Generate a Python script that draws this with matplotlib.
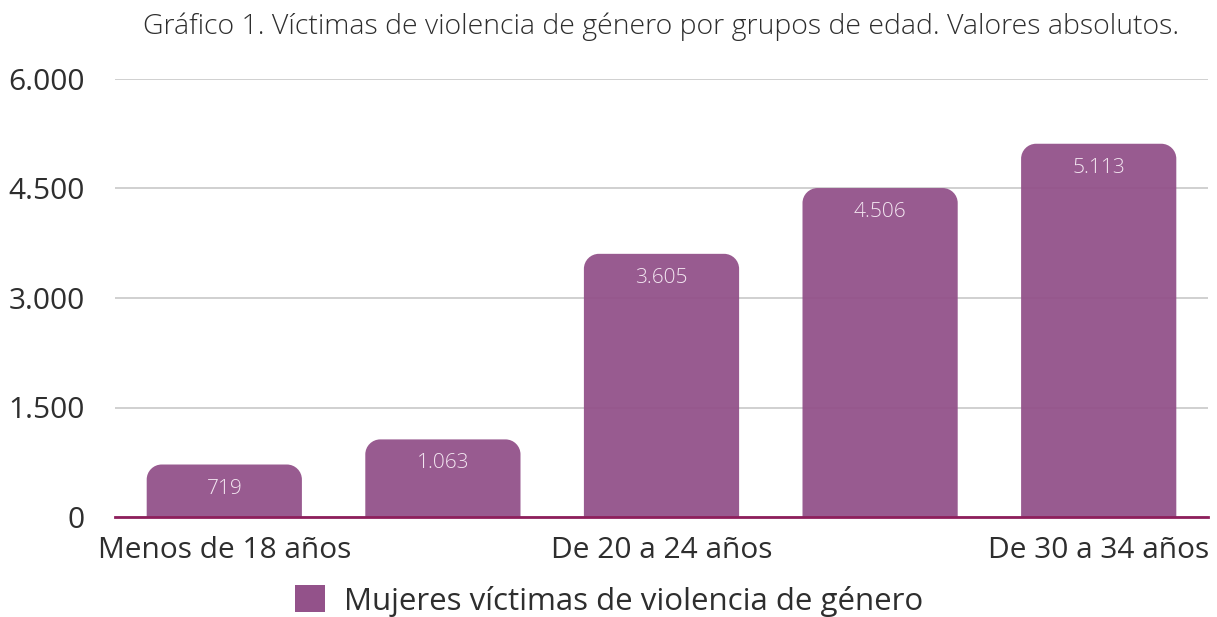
import matplotlib
matplotlib.use("Agg")
import matplotlib.pyplot as plt
from matplotlib.path import Path
from matplotlib.patches import PathPatch, Patch
from matplotlib.ticker import FuncFormatter

categories = ["Menos de 18 años", "De 18 a 19 años", "De 20 a 24 años",
              "De 25 a 29 años", "De 30 a 34 años"]
values = [719, 1063, 3605, 4506, 5113]
shown_labels = ["Menos de 18 años", "", "De 20 a 24 años", "", "De 30 a 34 años"]
yticks = [0, 1500, 3000, 4500, 6000]
series_name = "Mujeres víctimas de violencia de género"
title = "Gráfico 1. Víctimas de violencia de género por grupos de edad. Valores absolutos."

FONT = ["Open Sans", "DejaVu Sans"]
plt.rcParams["font.family"] = FONT
BAR = "#93528a"

fig = plt.figure(figsize=(12.17, 6.17), dpi=100)
ax = fig.add_axes([115/1217, 100/617, 1093/1217, 438/617])
ax.set_xlim(-0.5, 4.5)
ax.set_ylim(0, 6000)

x = list(range(len(categories)))
bars = ax.bar(x, values, width=0.71, color=BAR)

# rounded top corners (radius in pixels converted to data units)
fig.canvas.draw()
px_x = (ax.get_xlim()[1] - ax.get_xlim()[0]) / ax.bbox.width
px_y = (ax.get_ylim()[1] - ax.get_ylim()[0]) / ax.bbox.height
r = 15
rx, ry = r * px_x, r * px_y
k = 0.5523
for b in bars:
    x0, w, h = b.get_x(), b.get_width(), b.get_height()
    x1 = x0 + w
    verts = [
        (x0, 0), (x0, h - ry),
        (x0, h - ry + k * ry), (x0 + rx - k * rx, h), (x0 + rx, h),
        (x1 - rx, h),
        (x1 - rx + k * rx, h), (x1, h - ry + k * ry), (x1, h - ry),
        (x1, 0), (x0, 0),
    ]
    codes = [Path.MOVETO, Path.LINETO,
             Path.CURVE4, Path.CURVE4, Path.CURVE4,
             Path.LINETO,
             Path.CURVE4, Path.CURVE4, Path.CURVE4,
             Path.LINETO, Path.CLOSEPOLY]
    pp = PathPatch(Path(verts, codes), facecolor=BAR, edgecolor="none",
                   alpha=0.95, zorder=3)
    ax.add_patch(pp)
    b.set_visible(False)
    ax.annotate(f"{h:,.0f}".replace(",", "."), (x0 + w / 2, h),
                xytext=(0, -24), textcoords="offset pixels",
                ha="center", va="center", color="#f3e6f1", fontsize=15,
                fontweight="light", zorder=4)

ax.set_yticks(yticks)
ax.yaxis.set_major_formatter(FuncFormatter(lambda v, p: f"{v:,.0f}".replace(",", ".")))
ax.set_xticks(x)
ax.set_xticklabels(shown_labels)
ax.tick_params(axis="both", length=0, labelsize=21.5, labelcolor="#2e2e2e")
ax.tick_params(axis="y", pad=21.6)
ax.tick_params(axis="x", pad=14)
for lab in ax.get_yticklabels():
    lab.set_horizontalalignment("right")
ax.grid(axis="y", color="#c4c4c4", linewidth=1.1, zorder=0)
ax.set_axisbelow(True)
for s in ["top", "right", "left"]:
    ax.spines[s].set_visible(False)
ax.spines["bottom"].set_color("#8e1f5c")
ax.spines["bottom"].set_linewidth(2)
ax.spines["bottom"].set_zorder(5)

fig.text(661/1217, 1 - 27/617, title, ha="center", va="center",
         fontsize=20.5, color="#2e2e2e", fontweight="light")

handle = Patch(facecolor=BAR, edgecolor="none")
fig.legend([handle], [series_name], loc="center", bbox_to_anchor=(609/1217, 1 - 601/617),
           frameon=False, fontsize=22.5, handlelength=0.95, handleheight=0.95,
           handletextpad=0.6, labelcolor="#2e2e2e")

fig.savefig("out.png", dpi=100)
